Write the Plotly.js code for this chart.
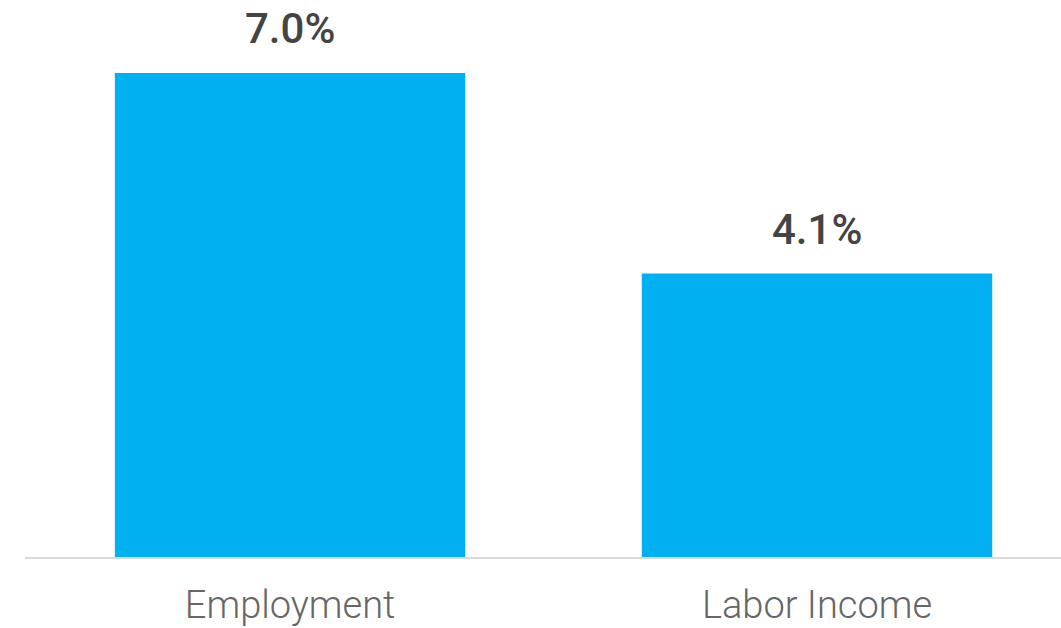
<!DOCTYPE html>
<html>
<head>
<meta charset="utf-8">
<script src="https://cdn.plot.ly/plotly-3.0.1.min.js"></script>
<style>html,body{margin:0;padding:0;background:#fff;}#chart{width:1061px;height:628px;}</style>
</head>
<body>
<div id="chart"></div>
<script>
const categories = ["Employment", "Labor Income"];
const values = [7.0, 4.1];
const valueLabels = ["7.0%", "4.1%"];

const trace = {
  type: "bar",
  x: categories,
  y: values,
  width: 0.665,
  marker: { color: "#00B0F0" },
  hoverinfo: "none"
};

const annotations = categories.map((c, i) => ({
  x: c, y: values[i], xref: "x", yref: "y",
  text: valueLabels[i], showarrow: false,
  yanchor: "bottom", yshift: 18,
  font: { family: "Roboto", size: 42, color: "#444444", weight: 500 }
}));

const layout = {
  width: 1061, height: 628,
  margin: { l: 25, r: 0, t: 0, b: 71 },
  paper_bgcolor: "#fff", plot_bgcolor: "#fff",
  showlegend: false,
  xaxis: {
    type: "category",
    range: [-0.503, 1.463],
    showline: true, linecolor: "#d9d9d9", linewidth: 2,
    ticks: "", showgrid: false, zeroline: false,
    tickfont: { family: "Roboto", size: 38, color: "#666666", weight: 300 },
    ticklabelstandoff: 13
  },
  yaxis: {
    range: [0, 8.056], visible: false, showgrid: false, zeroline: false
  },
  annotations: annotations
};

Plotly.newPlot("chart", [trace], layout, { displayModeBar: false, staticPlot: true });
</script>
</body>
</html>
